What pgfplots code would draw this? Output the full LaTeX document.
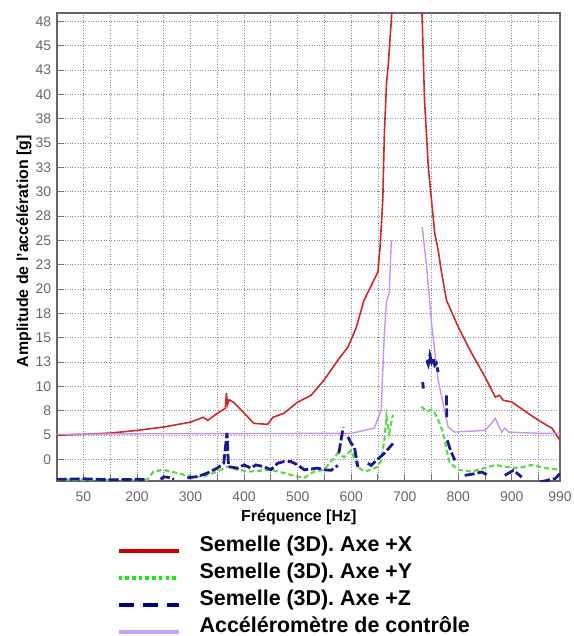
\documentclass[border=0pt]{standalone}
\usepackage{fontspec}
\setmainfont{Liberation Sans}
\usepackage{pgfplots}
\pgfplotsset{compat=1.18}
\definecolor{cred}{RGB}{208,40,40}
\definecolor{cgreen}{RGB}{95,215,75}
\definecolor{cblue}{RGB}{25,25,150}
\definecolor{cpurple}{RGB}{195,150,235}
\definecolor{lred}{RGB}{205,0,0}
\definecolor{lgreen}{RGB}{20,235,20}
\definecolor{lblue}{RGB}{0,0,140}
\definecolor{lpurple}{RGB}{200,160,245}
\begin{document}
\begin{tikzpicture}
\useasboundingbox (0,0) rectangle (574bp,636bp);
\begin{axis}[
  at={(56.7bp,155bp)}, anchor=south west,
  scale only axis, width=503.3bp, height=468bp,
  xmin=50, xmax=990, ymin=-0.89, ymax=18.35,
  unbounded coords=jump,
  xtick={100,200,300,400,500,600,700,800,900,990},
  xticklabels={50,200,300,400,500,600,700,800,900,990},
  minor xtick={150,250,350,450,550,650,750,850,950},
  ytick={0,1,2,3,4,5,6,7,8,9,10,11,12,13,14,15,16,17,18},
  yticklabels={0,5,8,10,13,15,18,20,23,25,28,30,33,35,38,40,43,45,48},
  tick pos=left, tick align=inside,
  major tick length=7bp, minor tick length=7bp,
  tick style={draw=black!55, line width=1bp},
  grid=both,
  major grid style={draw=black!45, line width=0.8bp, dash pattern=on 1bp off 1.6bp},
  minor grid style={draw=black!45, line width=0.8bp, dash pattern=on 1bp off 1.6bp},
  axis line style={draw=black!60, line width=1.6bp},
  ticklabel style={font=\fontsize{14}{14}\selectfont, text=black!60},
  xticklabel style={yshift=-7bp},
  yticklabel style={xshift=-2bp},
  /pgf/number format/assume math mode=true,
  xlabel={Fréquence [Hz]},
  ylabel={Amplitude de l’accélération [g]},
  label style={font=\bfseries\fontsize{16}{16}\selectfont},
  xlabel style={at={(axis description cs:0.481,-0.077)}, anchor=center},
  ylabel style={at={(axis description cs:-0.065,0.491)}, anchor=center},
  legend style={at={(axis description cs:0.1192,-0.1165)}, anchor=north west,
    draw=none, fill=none, inner sep=0pt, outer sep=0pt,
    font=\bfseries\fontsize{21.5}{21.5}\selectfont,
    column sep=19bp, row sep=9bp,
    nodes={inner sep=0pt, outer sep=0pt, text height=16bp, text depth=2bp}},
  legend cell align=left,
  legend image code/.code={\draw[#1] (0bp,-6.5bp) -- (60bp,-6.5bp);},
]
% Axe +X
\addplot[cred, line width=1.6bp, forget plot] coordinates {
(50,0.99) (99,1.03) (150,1.08) (200,1.19) (250,1.33) (300,1.53) (324,1.73) (332,1.60)
(350,1.89) (365,2.10) (367,2.72) (369,2.25) (372,2.45) (380,2.35) (399,1.93) (418,1.48)
(444,1.44) (454,1.73) (474,1.89) (500,2.35) (525,2.63) (549,3.25) (562,3.66) (575,4.07)
(594,4.62) (609,5.39) (624,6.54) (650,7.71) (654,8.74) (659,10.66) (662,13.42) (666,15.47)
(669,16.14) (675,18.07) (680,19.8) (700,24) (729,19.8) (732.5,18.14) (737,14.77) (744,12.03)
(750,10.66) (756,9.30) (762.5,8.60) (769,7.65) (778,6.54) (800,5.44) (825,4.36) (850,3.39)
(869,2.56) (877,2.63) (884,2.43) (900,2.36) (922,2.02) (950,1.60) (975,1.28) (990,0.78)
};
% Accelerometre de controle
\addplot[cpurple, line width=1.4bp, forget plot] coordinates {
(50,1.03) (200,1.05) (400,1.06) (600,1.07) (643,1.28) (656,2.02) (662,5.19) (666,6.5)
(671,6.83) (675,9.0) (676,nan) (732.5,9.56) (741,7.91) (750,5.60) (762.5,3.25) (781,1.33)
(793,1.12) (850,1.19) (862,1.48) (869,1.69) (875,1.40) (881,1.12) (887,1.28) (894,1.12)
(950,1.07) (990,1.07)
};
% Axe +Y
\addplot[cgreen, line width=2.2bp, dash pattern=on 5bp off 3bp, forget plot] coordinates {
(50,-0.84) (100,-0.84) (150,-0.86) (219,-0.84) (231,-0.50) (249,-0.43) (275,-0.56) (300,-0.71)
(324,-0.71) (350,-0.50) (369,-0.30) (387.5,-0.43) (412,-0.50) (450,-0.43) (474,-0.56) (500,-0.71)
(512,-0.76) (531,-0.50) (549,-0.43) (562,-0.1) (575,0.25) (587,0.09) (600,0.37) (612,-0.30)
(624,-0.50) (637,-0.43) (650,-0.30) (656,-0.02) (662,0.80) (666,1.76) (671,1.09) (678,1.83)
(680,nan) (731,2.17) (741,1.97) (750,2.04) (756,1.91) (762.5,1.62) (772,1.09) (778,0.39)
(784,-0.14) (800,-0.43) (825,-0.50) (850,-0.35) (869,-0.23) (887,-0.30) (912,-0.36) (937,-0.23)
(962,-0.36) (990,-0.43)
};
% Axe +Z
\addplot[cblue, line width=2.8bp, dash pattern=on 10bp off 3bp, forget plot] coordinates {
(50,-0.82) (100,-0.80) (150,-0.84) (200,-0.82) (219,-0.84) (230,nan)
(244,-0.82) (250,-0.72) (262,-0.75) (269,-0.82) (280,nan)
(294,-0.76) (312.5,-0.71) (331,-0.57) (350,-0.36) (362,-0.16) (368,1.08) (371,-0.30)
(387.5,-0.36) (400,-0.23) (412.5,-0.36) (422,-0.23) (437,-0.30) (450,-0.43) (462.5,-0.16)
(475,-0.09) (487.5,-0.09) (500,-0.23) (512.5,-0.43) (537.5,-0.36) (550,-0.43) (562.5,-0.45)
(575,-0.25) (576,nan) (577,0.25) (585,1.32) (590,nan)
(594,0.92) (600,0.66) (606,0.51) (612.5,-0.32) (620,nan)
(631,-0.16) (637.5,-0.25) (647,-0.04) (662,0.25) (678,0.65) (700,nan)
(733.5,3.18) (735,2.91) (738,nan)
(741,4.07) (744,3.9) (747,4.28) (750,4.0) (753,4.16) (756,3.87) (759,3.95) (762.5,3.59) (770,nan)
(778,2.63) (778.5,1.74) (779,nan)
(779.5,0.78) (785.5,0.37) (793.6,-0.04) (800,nan)
(812,-0.66) (831,-0.59) (843.7,-0.52) (856,-0.66) (870,nan)
(887,-0.66) (903,-0.45) (918.6,-0.73) (930,nan)
(953,-0.93) (981,-0.79) (990,-0.59)
};
\addlegendimage{lred, line width=4bp}
\addlegendentry{Semelle (3D). Axe +X}
\addlegendimage{lgreen, line width=4bp, dash pattern=on 3.5bp off 3.2bp}
\addlegendentry{Semelle (3D). Axe +Y}
\addlegendimage{lblue, line width=4bp, dash pattern=on 15bp off 9bp}
\addlegendentry{Semelle (3D). Axe +Z}
\addlegendimage{lpurple, line width=4bp}
\addlegendentry{Accéléromètre de contrôle}
\end{axis}
\end{tikzpicture}
\end{document}
